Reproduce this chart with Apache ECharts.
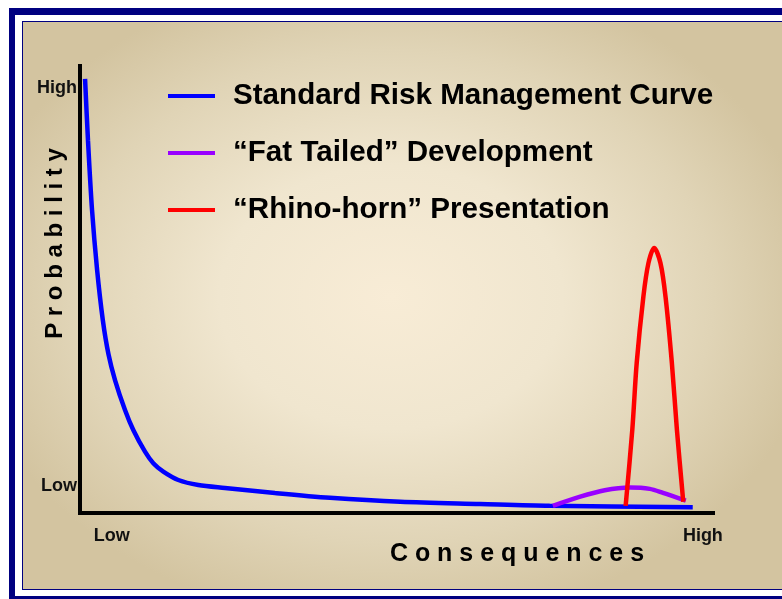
<!DOCTYPE html>
<html>
<head>
<meta charset="utf-8">
<script src="https://cdn.jsdelivr.net/npm/echarts@6/dist/echarts.min.js"></script>
<style>
  html, body { margin: 0; padding: 0; background: #fff; width: 782px; height: 599px; overflow: hidden; }
  #frame {
    position: absolute; left: 9px; top: 8px; width: 900px; height: 595px;
    box-sizing: border-box; border: 7px solid #000080; border-left-width: 6px; background: #fff;
  }
  #panel {
    position: absolute; left: 22px; top: 21px; width: 820px; height: 569px;
    box-sizing: border-box; border: 1px solid #000080;
    background: radial-gradient(ellipse 430px 330px at 368px 275px, #f8ecd6 0%, #f0e6cf 40%, #e0d4b6 75%, #d3c4a0 100%);
  }
  #chart { position: absolute; left: 0; top: 0; width: 782px; height: 599px; }
</style>
</head>
<body>
<div id="frame"></div>
<div id="panel"></div>
<div id="chart"></div>
<script>
  // axis tick labels
  const xLabelValues = [5, 98.4]
  const xLabels = ['Low', 'High']
  const yLabelValues = [6, 95]
  const yLabels = ['Low', 'High']

  const seriesNames = ['Standard Risk Management Curve', '\u201cFat Tailed\u201d Development', '\u201cRhino-horn\u201d Presentation']
  const seriesColors = ['#0000ff', '#9900ff', '#ff0000']

  // [consequence, probability]
  const standardCurve = [
    [0.8, 97.1], [1.26, 83.4], [1.9, 67.8], [2.7, 54.4], [3.6, 43.2], [4.5, 35.5],
    [5.53, 29.75], [7.11, 23.04], [8.42, 18.57], [10.27, 13.71], [11.58, 11.12], [13.16, 9.24],
    [15.53, 7.38], [18.69, 6.26], [22.9, 5.6], [30.8, 4.47], [39.5, 3.4], [50.6, 2.5],
    [63.2, 2.0], [74.2, 1.6], [96.8, 1.3]
  ]
  const fatTailed = [
    [74.7, 1.6], [78.9, 3.6], [82.9, 5.1], [86.9, 5.7], [90.0, 5.4], [92.1, 4.5], [95.7, 2.75]
  ]
  const rhinoHorn = [
    [86.2, 1.6], [87.25, 18.6], [87.95, 33.6], [89.0, 48.4], [89.8, 55.9], [90.7, 59.3],
    [91.7, 55.9], [92.5, 48.4], [93.5, 33.6], [94.3, 18.6], [95.3, 2.5]
  ]

  const font = "'Liberation Sans', Arial, sans-serif"
  const seriesData = [standardCurve, fatTailed, rhinoHorn]

  let chart = echarts.init(document.getElementById('chart'))
  chart.setOption({
    animation: false,
    textStyle: {fontFamily: font},
    grid: {left: 80, right: 69, top: 66, bottom: 86, outerBoundsMode: 'none', containLabel: false},
    legend: {
      orient: 'vertical',
      left: 168,
      top: 81,
      padding: 0,
      icon: 'rect',
      itemWidth: 47,
      itemHeight: 4,
      itemGap: 27,
      selectedMode: false,
      textStyle: {fontFamily: font, fontSize: 29.6, fontWeight: 'bold', color: '#000', padding: [0, 0, 0, 13]},
      data: seriesNames
    },
    xAxis: {
      type: 'value', min: 0, max: 100,
      name: 'C o n s e q u e n c e s',
      nameLocation: 'middle',
      nameGap: 29,
      nameMoveOverlap: false,
      nameTextStyle: {fontFamily: font, fontSize: 25, fontWeight: 'bold', color: '#000', padding: [0, 0, 0, 241]},
      axisLine: {show: true, lineStyle: {color: '#000', width: 4, cap: 'square'}},
      axisTick: {show: false},
      splitLine: {show: false},
      axisLabel: {
        customValues: xLabelValues,
        formatter: v => xLabels[xLabelValues.indexOf(v)],
        margin: 14,
        fontFamily: font, fontSize: 18, fontWeight: 'bold', color: '#111'
      }
    },
    yAxis: {
      type: 'value', min: 0, max: 100,
      name: 'P r o b a b i l i t y',
      nameLocation: 'middle',
      nameRotate: 90,
      nameGap: 13,
      nameMoveOverlap: false,
      nameTextStyle: {fontFamily: font, fontSize: 24, fontWeight: 'bold', color: '#000', padding: [0, 0, 0, 92]},
      axisLine: {show: true, lineStyle: {color: '#000', width: 4, cap: 'square'}},
      axisTick: {show: false},
      splitLine: {show: false},
      axisLabel: {
        customValues: yLabelValues,
        formatter: v => yLabels[yLabelValues.indexOf(v)],
        margin: 3,
        fontFamily: font, fontSize: 18, fontWeight: 'bold', color: '#111'
      }
    },
    series: seriesNames.map((name, i) => ({
      type: 'line',
      name: name,
      smooth: 0.3,
      showSymbol: false,
      symbol: 'none',
      z: 2 + i,
      itemStyle: {color: seriesColors[i]},
      lineStyle: {color: seriesColors[i], width: 4.5},
      data: seriesData[i]
    }))
  })
</script>
</body>
</html>
